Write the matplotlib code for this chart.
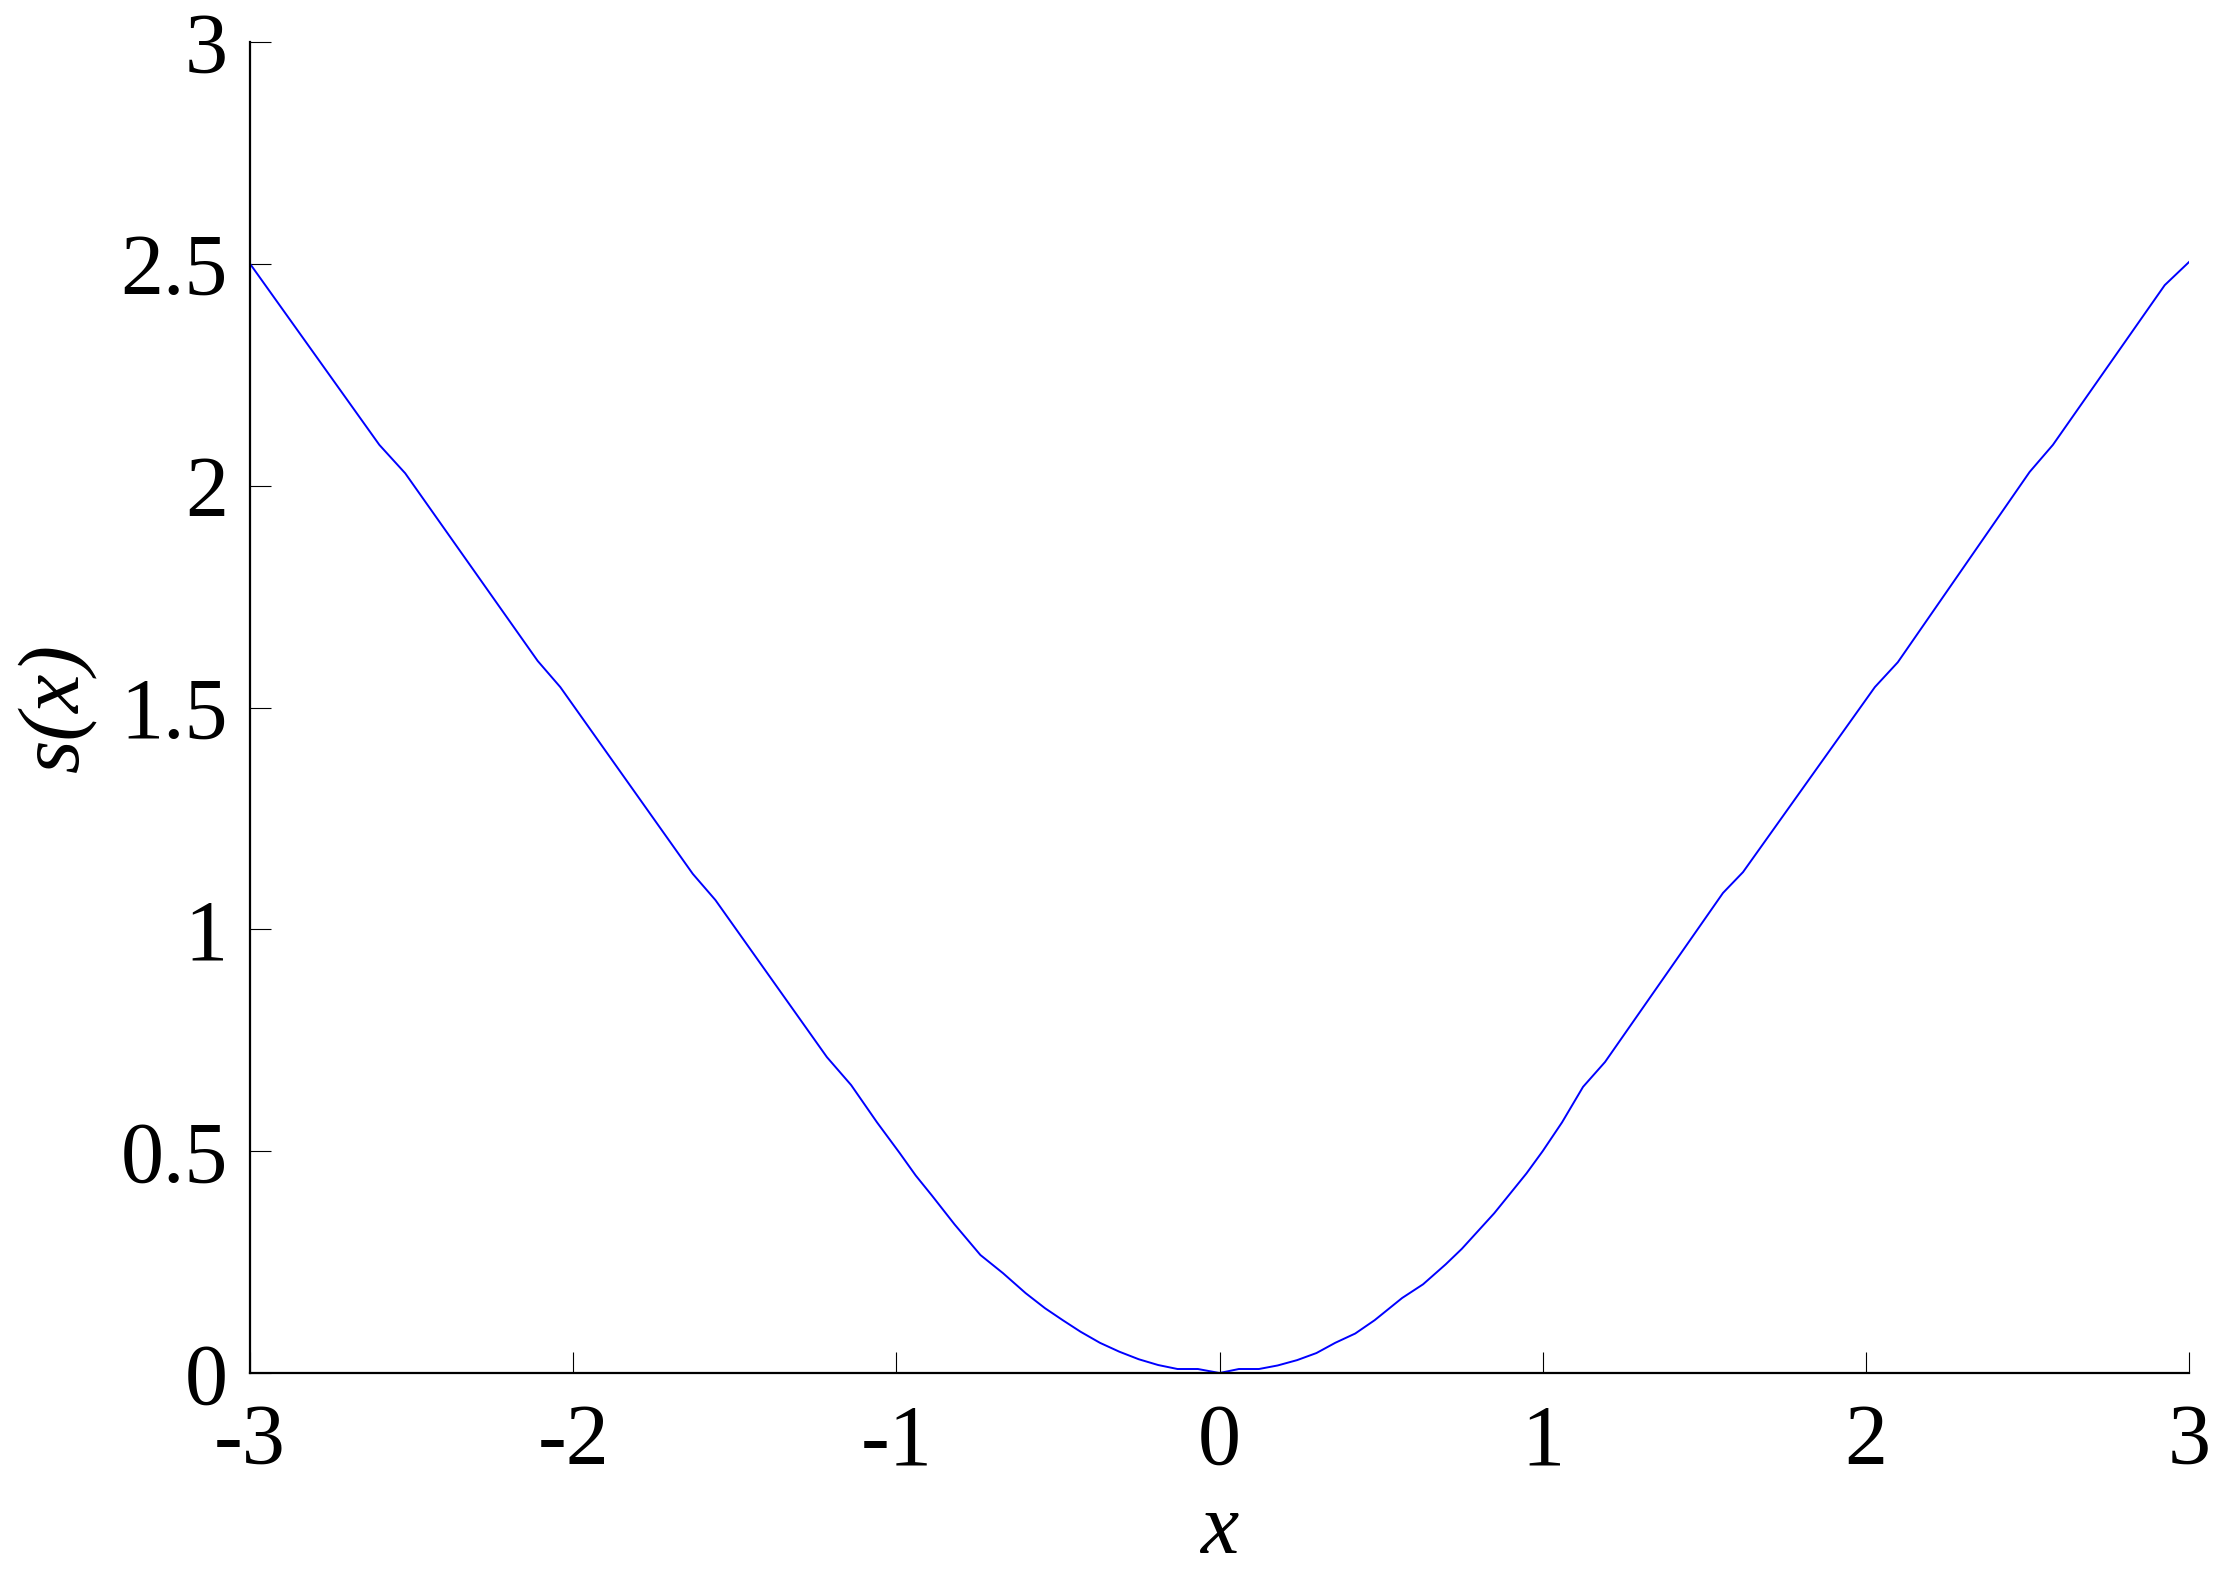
import matplotlib
matplotlib.use("Agg")
import matplotlib.pyplot as plt

# curve s(x), points
x_vals = [-3.0, -2.60, -2.52, -2.11, -2.04, -1.63, -1.56, -1.215, -1.14,
          -1.06, -0.99, -0.94, -0.89, -0.82, -0.74, -0.67, -0.60, -0.54,
          -0.485, -0.43, -0.37, -0.31, -0.25, -0.19, -0.13, -0.067,
          0.0, 0.06, 0.122, 0.18, 0.24, 0.30, 0.358, 0.42, 0.48, 0.565,
          0.63, 0.70, 0.75, 0.80, 0.85, 0.90, 0.95, 1.0, 1.06, 1.125, 1.193,
          1.558, 1.62, 2.028, 2.099, 2.507, 2.579, 2.925, 3.0]
s_vals = [2.5, 2.092, 2.028, 1.605, 1.546, 1.125, 1.066, 0.712, 0.649,
          0.565, 0.496, 0.445, 0.40, 0.335, 0.266, 0.225, 0.18, 0.146,
          0.119, 0.093, 0.068, 0.048, 0.031, 0.018, 0.009, 0.009,
          0.0, 0.009, 0.009, 0.017, 0.029, 0.045, 0.068, 0.089, 0.119, 0.169,
          0.20, 0.245, 0.28, 0.32, 0.36, 0.405, 0.45, 0.50, 0.565, 0.645, 0.701,
          1.082, 1.129, 1.546, 1.602, 2.031, 2.092, 2.452, 2.504]

x_ticks = [-3, -2, -1, 0, 1, 2, 3]
y_ticks = [0, 0.5, 1, 1.5, 2, 2.5, 3]
y_tick_labels = ["0", "0.5", "1", "1.5", "2", "2.5", "3"]

plt.rcParams["font.family"] = ["Liberation Serif", "DejaVu Serif"]

fig = plt.figure(figsize=(22.25, 15.74), dpi=100)
ax = fig.add_axes([0.1124, 0.1277, 0.8714, 0.8456])

ax.plot(x_vals, s_vals, color="#0000ff", linewidth=1.4)

ax.set_xlim(-3, 3)
ax.set_ylim(0, 3)
ax.set_xticks(x_ticks)
ax.set_xticklabels([str(t) for t in x_ticks])
ax.set_yticks(y_ticks)
ax.set_yticklabels(y_tick_labels)

for side in ["top", "right"]:
    ax.spines[side].set_visible(False)
for side in ["left", "bottom"]:
    ax.spines[side].set_linewidth(1.6)

ax.tick_params(axis="both", direction="in", length=15, width=0.8,
               labelsize=62)
ax.tick_params(axis="x", pad=22)
ax.tick_params(axis="y", pad=16)

ax.set_xlabel("x", fontsize=62, style="italic", va="center")
ax.xaxis.set_label_coords(0.5, -0.12)
ax.set_ylabel("s(x)", fontsize=62, style="italic", va="center", ha="center")
ax.yaxis.set_label_coords(-0.1, 0.5)

fig.savefig("out.png", dpi=100)
